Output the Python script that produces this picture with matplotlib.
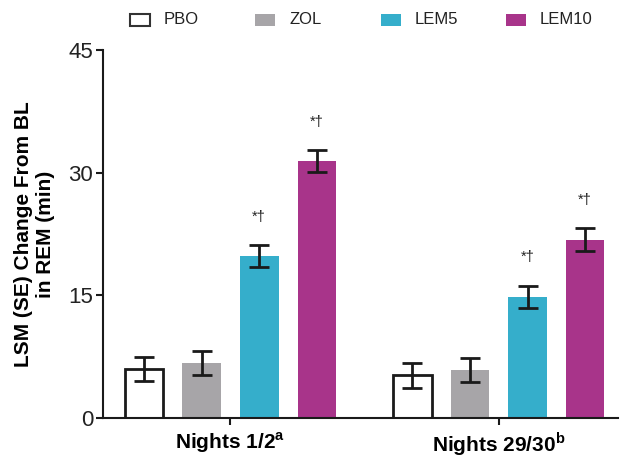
import numpy as np
import matplotlib
matplotlib.use('Agg')
import matplotlib.pyplot as plt
from matplotlib.patches import Rectangle

plt.rcParams['font.family'] = ['Liberation Sans', 'DejaVu Sans']
plt.rcParams['mathtext.fontset'] = 'custom'
plt.rcParams['mathtext.rm'] = 'Liberation Sans'
plt.rcParams['mathtext.bf'] = 'Liberation Sans:bold'

groups = ['Nights 1/2$^{\\bf a}$', 'Nights 29/30$^{\\bf b}$']
treatments = ['PBO', 'ZOL', 'LEM5', 'LEM10']
means = {'PBO': [6.0, 5.2], 'ZOL': [6.7, 5.9], 'LEM5': [19.8, 14.8], 'LEM10': [31.4, 21.8]}
errs = {'PBO': [1.5, 1.5], 'ZOL': [1.5, 1.45], 'LEM5': [1.3, 1.4], 'LEM10': [1.35, 1.4]}
signif = {'LEM5': ['*†', '*†'], 'LEM10': ['*†', '*†']}
colors = {'PBO': 'white', 'ZOL': '#a7a5a8', 'LEM5': '#35aecb', 'LEM10': '#a8348a'}

W, H = 620, 458
fig = plt.figure(figsize=(W / 100, H / 100), dpi=100)
ax = fig.add_axes([103 / W, 40 / H, 515 / W, 368 / H])

gap = 4.66
w = 0.67
for i, tr in enumerate(treatments):
    xs = np.array([i, i + gap])
    ec = '#1a1a1a' if tr == 'PBO' else 'none'
    lw = 2 if tr == 'PBO' else 0
    ax.bar(xs, means[tr], w, color=colors[tr], edgecolor=ec, linewidth=lw, zorder=2)
    ax.errorbar(xs, means[tr], yerr=errs[tr], fmt='none', ecolor='#1a1a1a',
                elinewidth=2, capsize=7, capthick=2, zorder=3)
    if tr in signif:
        for x, m, e, s in zip(xs, means[tr], errs[tr], signif[tr]):
            ax.text(x, m + e + 2.6, s, ha='center', va='bottom', fontsize=10.5, color='#222222')

ax.set_xlim(-0.713, 8.23)
ax.set_ylim(0, 45)
ax.set_yticks([0, 15, 30, 45])
ax.set_xticks([1.5, 1.5 + gap])
ax.set_xticklabels(groups, fontsize=15, fontweight='bold')
ax.tick_params(axis='both', direction='out', length=5, width=1.5, color='#1a1a1a')
ax.tick_params(axis='y', labelsize=16, pad=2, labelcolor='#222222')
ax.tick_params(axis='x', pad=4)
for s in ['top', 'right']:
    ax.spines[s].set_visible(False)
for s in ['left', 'bottom']:
    ax.spines[s].set_linewidth(1.5)
    ax.spines[s].set_color('#1a1a1a')
ax.set_ylabel('LSM (SE) Change From BL\nin REM (min)', fontsize=15, fontweight='bold',
              labelpad=10, linespacing=1.2)

# legend row drawn in figure pixels
for i, t in enumerate(treatments):
    x0 = 130 + 125.3 * i
    fig.patches.append(Rectangle((x0 / W, 1 - 26 / H), 20 / W, 12 / H, transform=fig.transFigure,
                                 facecolor=colors[t],
                                 edgecolor='#333333' if t == 'PBO' else colors[t],
                                 linewidth=1.5 if t == 'PBO' else 0))
    fig.text((x0 + 34) / W, 1 - 20 / H, t, ha='left', va='center', fontsize=12, color='#222222')

fig.savefig('out.png', dpi=100)
